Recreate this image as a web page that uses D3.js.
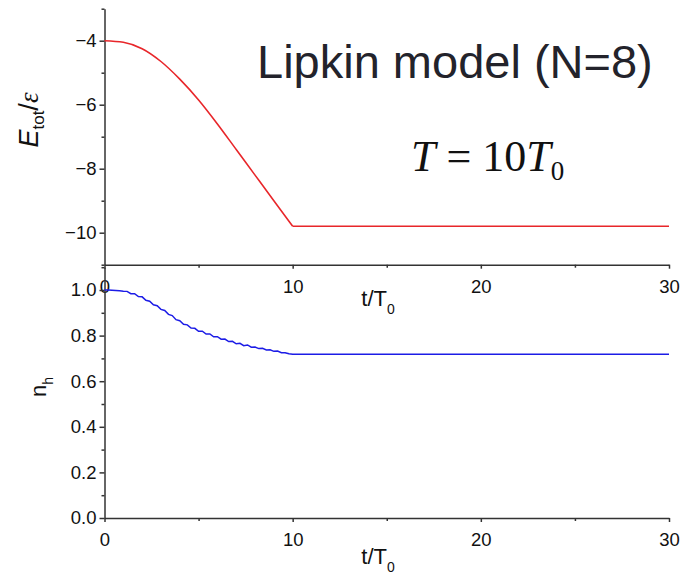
<!DOCTYPE html>
<html>
<head>
<meta charset="utf-8">
<script src="https://cdn.jsdelivr.net/npm/d3@7"></script>
<style>
  body { margin: 0; background: #fff; }
  svg { display: block; }
  .tick text { font-family: "Liberation Sans", Arial, sans-serif; font-size: 18.5px; fill: #111; }
  .domain, .tick line { stroke: #333; stroke-width: 1.5; }
</style>
</head>
<body>
<svg id="chart" width="682" height="578"></svg>
<script>
// time axis (t/T0)
var xTicks = [0, 10, 20, 30];
var xMinor = [5, 15, 25];

// total energy, E_tot / epsilon
var energyT = [0, 1, 2, 3, 4, 5, 6, 7, 8, 9, 10, 30];
var energyE = [-4.0, -4.05, -4.25, -4.65, -5.2, -5.85, -6.6, -7.4, -8.2, -9.0, -9.8, -9.8];
var eTicks = [-10, -8, -6, -4];
var eMinor = [-11, -9, -7, -5, -3];

// hole occupation n_h (small wiggles)
var occT = [0, 0.2, 0.4, 0.6, 0.8, 1.0, 1.2, 1.4, 1.6, 1.8, 2.0, 2.2, 2.4, 2.6, 2.8, 3.0,
  3.2, 3.4, 3.6, 3.8, 4.0, 4.2, 4.4, 4.6, 4.8, 5.0, 5.2, 5.4, 5.6, 5.8, 6.0,
  6.2, 6.4, 6.6, 6.8, 7.0, 7.2, 7.4, 7.6, 7.8, 8.0, 8.2, 8.4, 8.6, 8.8, 9.0,
  9.2, 9.4, 9.6, 9.8, 10.0, 30];
var occN = [1.000, 1.000, 0.999, 0.998, 0.997, 0.995, 0.994, 0.984, 0.984, 0.971, 0.970,
  0.955, 0.951, 0.935, 0.931, 0.915, 0.910, 0.893, 0.888, 0.870, 0.865,
  0.850, 0.847, 0.833, 0.832, 0.819, 0.819, 0.807, 0.807, 0.795, 0.795,
  0.784, 0.785, 0.774, 0.775, 0.764, 0.766, 0.756, 0.759, 0.749, 0.750,
  0.743, 0.744, 0.737, 0.738, 0.731, 0.732, 0.725, 0.725, 0.720, 0.718, 0.718];
var nTicks = [0, 0.2, 0.4, 0.6, 0.8, 1.0];
var nMinor = [0.1, 0.3, 0.5, 0.7, 0.9, 1.1];

var svg = d3.select("#chart");

var x = d3.scaleLinear().domain([0, 30]).range([104.5, 669]);
var yTop = d3.scaleLinear().domain([-11, -3]).range([264.7, 8.7]);
var yBot = d3.scaleLinear().domain([0, 1.1]).range([518, 267.2]);

function drawAxes(y, yt, ym, fmt, xAxisY) {
  // minor ticks first
  svg.append("g").attr("transform", "translate(" + x(0) + ",0)")
    .call(d3.axisLeft(y).tickValues(ym).tickFormat("").tickSize(3).tickSizeOuter(0))
    .select(".domain").remove();
  svg.append("g").attr("transform", "translate(0," + xAxisY + ")")
    .call(d3.axisBottom(x).tickValues(xMinor).tickFormat("").tickSize(3).tickSizeOuter(0))
    .select(".domain").remove();

  svg.append("g").attr("transform", "translate(" + x(0) + ",0)")
    .call(d3.axisLeft(y).tickValues(yt).tickFormat(fmt).tickSize(5).tickSizeOuter(0).tickPadding(3));
  svg.append("g").attr("transform", "translate(0," + xAxisY + ")")
    .call(d3.axisBottom(x).tickValues(xTicks).tickFormat(d3.format("d")).tickSize(4).tickSizeOuter(0).tickPadding(11));
}

drawAxes(yTop, eTicks, eMinor, function(d) { return d3.format("d")(d).replace("-", "\u2212"); }, yTop(-11));
drawAxes(yBot, nTicks, nMinor, d3.format(".1f"), yBot(0));

// curves
var ramp = [], flat = [];
energyT.forEach(function(t, i) {
  if (t <= 10) ramp.push([t, energyE[i]]);
  if (t >= 10) flat.push([t, energyE[i]]);
});
var lineE = d3.line().x(function(d) { return x(d[0]); }).y(function(d) { return yTop(d[1]); });
svg.append("path").attr("d", lineE.curve(d3.curveMonotoneX)(ramp))
  .attr("fill", "none").attr("stroke", "#e8262a").attr("stroke-width", 1.6);
svg.append("path").attr("d", lineE.curve(d3.curveLinear)(flat))
  .attr("fill", "none").attr("stroke", "#e8262a").attr("stroke-width", 1.6);

var occ = occT.map(function(t, i) { return [t, occN[i]]; });
var lineN = d3.line().x(function(d) { return x(d[0]); }).y(function(d) { return yBot(d[1]); });
svg.append("path").attr("d", lineN(occ))
  .attr("fill", "none").attr("stroke", "#1c1ce6").attr("stroke-width", 1.5);

// axis titles
function tLabel(yBase) {
  var t = svg.append("text").attr("x", 378).attr("y", yBase).attr("text-anchor", "middle")
    .style("font-family", "Liberation Sans, Arial, sans-serif").style("font-size", "22px").attr("fill", "#111");
  t.append("tspan").text("t/T");
  t.append("tspan").attr("dy", 8).style("font-size", "14px").text("0");
}
tLabel(306);
tLabel(564);

var ey = svg.append("text").attr("transform", "translate(38,120) rotate(-90)")
  .attr("text-anchor", "middle").style("font-family", "Liberation Sans, Arial, sans-serif")
  .style("font-size", "27px").attr("fill", "#111");
ey.append("tspan").style("font-style", "italic").text("E");
ey.append("tspan").attr("dy", 6).style("font-size", "17px").text("tot");
ey.append("tspan").attr("dy", -6).text("/");
ey.append("tspan").style("font-style", "italic").style("font-family", "Liberation Serif, serif").text("\u03b5");

var ny = svg.append("text").attr("transform", "translate(46,387) rotate(-90)")
  .attr("text-anchor", "middle").style("font-family", "Liberation Sans, Arial, sans-serif")
  .style("font-size", "22px").attr("fill", "#111");
ny.append("tspan").text("n");
ny.append("tspan").attr("dy", 7).style("font-size", "14px").text("h");

// annotations
svg.append("text").attr("x", 257).attr("y", 78)
  .style("font-family", "Liberation Sans, Arial, sans-serif").style("font-size", "47px")
  .attr("fill", "#23232b").text("Lipkin model (N=8)");

var eq = svg.append("text").attr("x", 411).attr("y", 171)
  .style("font-family", "Liberation Serif, Times New Roman, serif").style("font-size", "44px").attr("fill", "#111");
eq.append("tspan").style("font-style", "italic").text("T");
eq.append("tspan").text(" = 10");
eq.append("tspan").style("font-style", "italic").text("T");
eq.append("tspan").attr("dy", 9).style("font-size", "27px").text("0");
</script>
</body>
</html>
